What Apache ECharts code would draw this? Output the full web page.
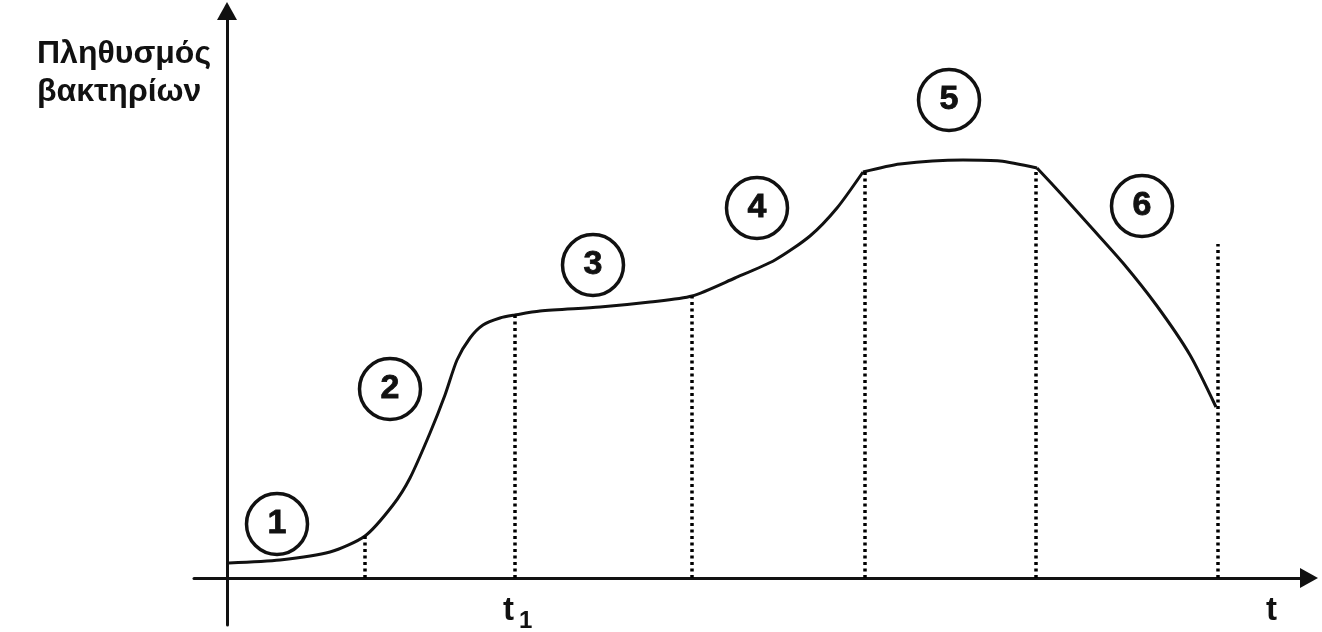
<!DOCTYPE html>
<html>
<head>
<meta charset="utf-8">
<script src="https://cdn.jsdelivr.net/npm/echarts@6/dist/echarts.min.js"></script>
<style>
  html, body { margin: 0; padding: 0; background: #fff; }
  #chart { width: 1322px; height: 632px; }
</style>
</head>
<body>
<div id="chart"></div>
<script>
    // phases of the growth curve, [time, population] in arbitrary units
    var growthPhase = [
        [0.2, 1.5], [5.3, 1.8], [10.3, 2.6], [13.8, 4.2], [16.6, 7.3], [18.3, 10.0],
        [20.3, 14.5], [21.8, 18.3], [23.0, 21.8], [24.3, 24.0], [25.6, 25.3], [27.3, 26.0],
        [28.8, 26.3], [31.3, 26.7], [37.3, 27.1], [42.3, 27.6], [46.5, 28.2], [50.8, 30.0],
        [54.8, 31.8], [58.3, 34.2], [61.0, 37.0], [63.6, 40.6]
    ];
    var stationaryPhase = [[63.6, 40.6], [67.3, 41.4], [73.6, 41.8], [77.3, 41.7], [81.0, 41.0]];
    var deathPhase = [[81.0, 41.0], [83.6, 38.2], [86.3, 35.2], [89.6, 31.5], [93.0, 27.2], [96.3, 22.3], [98.9, 17.1]];

    // dotted separators: [time, top]
    var dividers = [[13.8, 4.2], [28.8, 26.3], [46.5, 28.2], [63.8, 40.6], [80.9, 40.8], [99.1, 33.4]];

    // circled phase numbers
    var phaseLabels = ['1', '2', '3', '4', '5', '6'];
    var phasePos = [[5.0, 5.4], [16.3, 18.9], [36.6, 31.3], [53.0, 37.0], [72.2, 47.8], [91.5, 37.2]];

    var yTitle = ['Πληθυσμός', 'βακτηρίων'];

    var myChart = echarts.init(document.getElementById('chart'));

    var curveStyle = { color: '#111', width: 3, opacity: 1 };
    function curve(data) {
        return {
            type: 'line',
            data: data,
            smooth: 0.25,
            symbol: 'none',
            lineStyle: curveStyle,
            silent: true,
            z: 3
        };
    }

    var options = {
        animation: false,
        backgroundColor: '#fff',
        grid: { left: 194, right: 13, top: 11, bottom: 7 },
        xAxis: {
            type: 'value',
            min: -3.3,
            max: 108.2,
            axisLine: {
                onZero: true,
                symbol: ['none', 'triangle'],
                symbolSize: [20, 18],
                lineStyle: { color: '#111', width: 3 }
            },
            axisTick: { show: false },
            axisLabel: { show: false },
            splitLine: { show: false }
        },
        yAxis: {
            type: 'value',
            min: -4.7,
            max: 56.7,
            axisLine: {
                onZero: true,
                symbol: ['none', 'triangle'],
                symbolSize: [20, 18],
                lineStyle: { color: '#111', width: 3 }
            },
            axisTick: { show: false },
            axisLabel: { show: false },
            splitLine: { show: false }
        },
        series: [
            curve(growthPhase),
            curve(stationaryPhase),
            curve(deathPhase),
            {
                type: 'line',
                data: [],
                markLine: {
                    silent: true,
                    symbol: 'none',
                    label: { show: false },
                    lineStyle: { color: '#000', width: 3.5, type: [3, 3.5], opacity: 1 },
                    data: dividers.map(function (d) {
                        return [{ coord: [d[0], 0] }, { coord: [d[0], d[1]] }];
                    })
                }
            },
            {
                type: 'scatter',
                data: phasePos.map(function (p, i) {
                    return { value: p, name: phaseLabels[i] };
                }),
                symbol: 'circle',
                symbolSize: 61,
                itemStyle: { color: 'rgba(0,0,0,0)', borderColor: '#111', borderWidth: 3.5, opacity: 1 },
                label: {
                    show: true,
                    position: 'inside',
                    formatter: '{b}',
                    color: '#111',
                    fontFamily: 'Liberation Sans',
                    fontWeight: 'bold',
                    fontSize: 34,
                    textBorderColor: '#111',
                    textBorderWidth: 0.8
                },
                silent: true,
                z: 4
            }
        ],
        graphic: [
            {
                type: 'text',
                left: 37, top: 38,
                style: { text: yTitle[0], fill: '#111', font: 'bold 32px "Liberation Sans"' }
            },
            {
                type: 'text',
                left: 37, top: 76,
                style: { text: yTitle[1], fill: '#111', font: 'bold 32px "Liberation Sans"' }
            },
            {
                type: 'text',
                left: 1266, top: 594,
                style: { text: 't', fill: '#111', font: 'bold 33px "Liberation Sans"' }
            },
            {
                type: 'text',
                left: 503, top: 594,
                style: { text: 't', fill: '#111', font: 'bold 33px "Liberation Sans"' }
            },
            {
                type: 'text',
                left: 519, top: 609,
                style: { text: '1', fill: '#111', font: 'bold 24px "Liberation Sans"' }
            }
        ]
    };

    myChart.setOption(options);
</script>
</body>
</html>
